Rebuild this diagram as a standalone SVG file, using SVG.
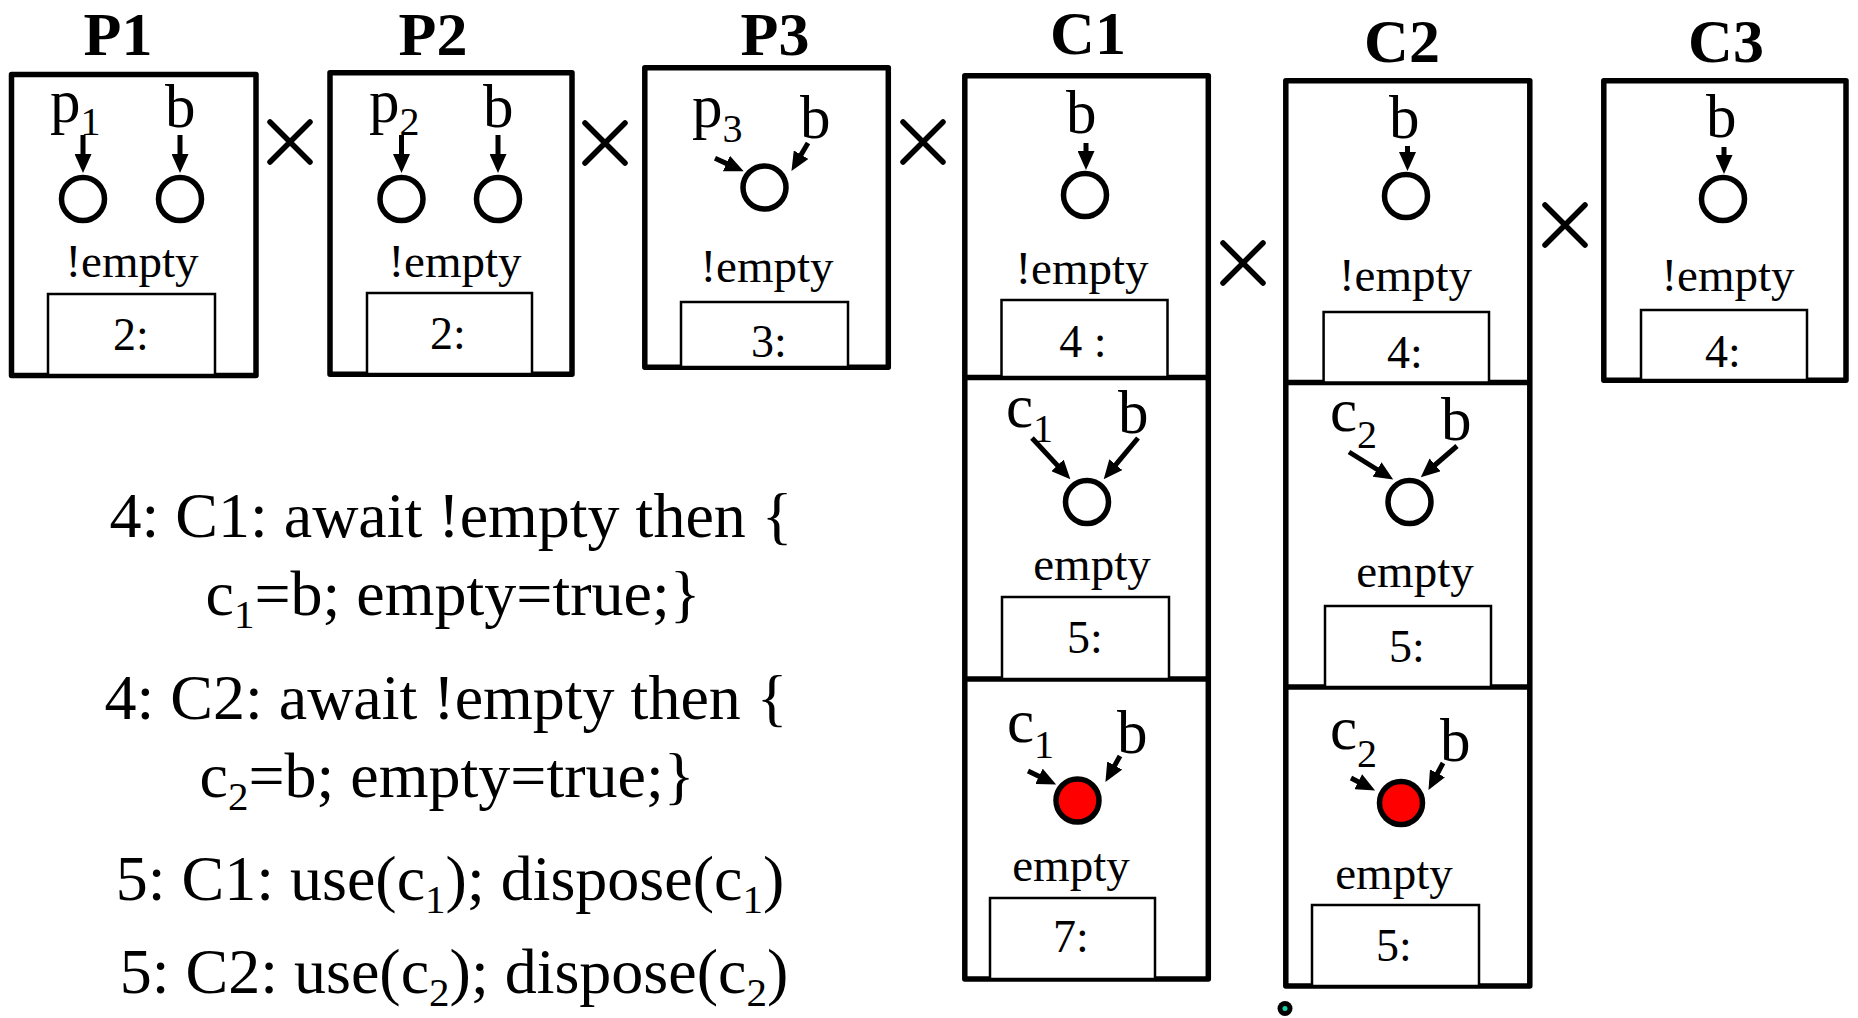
<svg xmlns="http://www.w3.org/2000/svg" width="1858" height="1018" viewBox="0 0 1858 1018">
  <style>
    .title { font-family: "Liberation Serif", "Times New Roman", serif; font-weight: bold; font-size: 62px; text-anchor: middle; fill: #000; }
    .frame { fill: none; stroke: #000; stroke-width: 5.5; stroke-linejoin: round; }
    .divider { stroke: #000; stroke-width: 5.5; }
    .pc { fill: #fff; stroke: #000; stroke-width: 2.5; }
    .lbl { font-family: "Liberation Serif", "Times New Roman", serif; font-size: 61px; fill: #000; }
    .sub { font-size: 40px; }
    .cond { font-family: "Liberation Serif", "Times New Roman", serif; font-size: 47px; text-anchor: middle; fill: #000; }
    .num { font-family: "Liberation Serif", "Times New Roman", serif; font-size: 46px; text-anchor: middle; fill: #000; }
    .var { fill: #fff; stroke: #000; stroke-width: 5.5; }
    .var.hit { fill: #ff0000; }
    .times { stroke: #000; stroke-width: 5.5; stroke-linecap: round; fill: none; }
    .arrow { stroke: #000; stroke-width: 5; fill: none; marker-end: url(#head); }
    .code { font-family: "Liberation Serif", "Times New Roman", serif; font-size: 64px; text-anchor: middle; fill: #000; }
    .csub { font-size: 41px; }
  </style>
  <defs>
    <marker id="head" viewBox="0 0 19 17" refX="1" refY="8.5" markerWidth="19" markerHeight="17" markerUnits="userSpaceOnUse" orient="auto">
      <path d="M0,0 L19,8.5 L0,17 Z" fill="#000"/>
    </marker>
  </defs>

  <!-- process titles -->
  <g id="titles">
    <text class="title" x="118" y="55">P1</text>
    <text class="title" x="433" y="55">P2</text>
    <text class="title" x="775" y="55">P3</text>
    <text class="title" x="1088" y="54">C1</text>
    <text class="title" x="1402" y="62">C2</text>
    <text class="title" x="1726" y="62">C3</text>
  </g>

  <!-- product operators -->
  <g id="products">
    <path class="times" d="M270,122 L310,162 M310,122 L270,162"/>
    <path class="times" d="M585,123 L625,163 M625,123 L585,163"/>
    <path class="times" d="M903,122 L943,162 M943,122 L903,162"/>
    <path class="times" d="M1223,243 L1263,283 M1263,243 L1223,283"/>
    <path class="times" d="M1545,205 L1585,245 M1585,205 L1545,245"/>
  </g>

  <!-- P1 -->
  <g id="P1">
    <rect class="frame" x="11.5" y="74.5" width="244.5" height="301"/>
    <text class="lbl" x="50" y="122">p<tspan class="sub" dy="13">1</tspan></text>
    <text class="lbl" x="165" y="127">b</text>
    <circle class="var" cx="83" cy="199" r="21.5"/>
    <circle class="var" cx="180" cy="199" r="21.5"/>
    <text class="cond" x="132" y="277">!empty</text>
    <rect class="pc" x="48" y="294" width="167" height="81"/>
    <text class="num" x="131" y="350">2:</text>
  </g>

  <!-- P2 -->
  <g id="P2">
    <rect class="frame" x="330" y="72.8" width="242" height="301.5"/>
    <text class="lbl" x="369" y="122">p<tspan class="sub" dy="13">2</tspan></text>
    <text class="lbl" x="483" y="127">b</text>
    <circle class="var" cx="401.5" cy="199" r="21.5"/>
    <circle class="var" cx="498" cy="199" r="21.5"/>
    <text class="cond" x="455" y="277">!empty</text>
    <rect class="pc" x="367" y="293" width="165" height="81"/>
    <text class="num" x="448" y="349">2:</text>
  </g>

  <!-- P3 -->
  <g id="P3">
    <rect class="frame" x="644.8" y="67.8" width="243.5" height="299.5"/>
    <text class="lbl" x="692" y="127">p<tspan class="sub" dy="15">3</tspan></text>
    <text class="lbl" x="800" y="138">b</text>
    <circle class="var" cx="764.5" cy="187.5" r="21.5"/>
    <text class="cond" x="767" y="282">!empty</text>
    <rect class="pc" x="681" y="302" width="167" height="65"/>
    <text class="num" x="769" y="357">3:</text>
  </g>

  <!-- C1 -->
  <g id="C1">
    <rect class="frame" x="964.8" y="75.8" width="243.5" height="903.2"/>
    <line class="divider" x1="964.8" y1="377.5" x2="1208.3" y2="377.5"/>
    <line class="divider" x1="964.8" y1="679" x2="1208.3" y2="679"/>
    <!-- state 4 -->
    <text class="lbl" x="1066" y="133">b</text>
    <circle class="var" cx="1085" cy="195" r="21.5"/>
    <text class="cond" x="1082" y="284">!empty</text>
    <rect class="pc" x="1001.5" y="300" width="166" height="77"/>
    <text class="num" x="1083" y="357">4 :</text>
    <!-- state 5 -->
    <text class="lbl" x="1006" y="427">c<tspan class="sub" dy="15">1</tspan></text>
    <text class="lbl" x="1118" y="433">b</text>
    <circle class="var" cx="1087" cy="502" r="21.5"/>
    <text class="cond" x="1092" y="580">empty</text>
    <rect class="pc" x="1002" y="597" width="167" height="82"/>
    <text class="num" x="1085" y="653">5:</text>
    <!-- state 7 -->
    <text class="lbl" x="1007" y="742">c<tspan class="sub" dy="16">1</tspan></text>
    <text class="lbl" x="1117" y="753">b</text>
    <circle class="var hit" cx="1077.5" cy="800.5" r="21.5"/>
    <text class="cond" x="1071" y="881">empty</text>
    <rect class="pc" x="990" y="898" width="165" height="81"/>
    <text class="num" x="1071" y="952">7:</text>
  </g>

  <!-- C2 -->
  <g id="C2">
    <rect class="frame" x="1285.8" y="80.8" width="244" height="905.2"/>
    <line class="divider" x1="1285.8" y1="382.5" x2="1529.8" y2="382.5"/>
    <line class="divider" x1="1285.8" y1="687" x2="1529.8" y2="687"/>
    <!-- state 4 -->
    <text class="lbl" x="1389" y="138">b</text>
    <circle class="var" cx="1406" cy="196" r="21.5"/>
    <text class="cond" x="1405.5" y="291">!empty</text>
    <rect class="pc" x="1323.6" y="312" width="165.4" height="70.5"/>
    <text class="num" x="1405" y="368">4:</text>
    <!-- state 5 -->
    <text class="lbl" x="1330" y="431">c<tspan class="sub" dy="17">2</tspan></text>
    <text class="lbl" x="1441" y="440">b</text>
    <circle class="var" cx="1409.5" cy="502" r="21.5"/>
    <text class="cond" x="1415" y="587">empty</text>
    <rect class="pc" x="1325" y="606" width="166" height="81"/>
    <text class="num" x="1407" y="662">5:</text>
    <!-- state 5, after use -->
    <text class="lbl" x="1330" y="749">c<tspan class="sub" dy="18">2</tspan></text>
    <text class="lbl" x="1440" y="761">b</text>
    <circle class="var hit" cx="1401" cy="803" r="21.5"/>
    <text class="cond" x="1394" y="889">empty</text>
    <rect class="pc" x="1312" y="905" width="167" height="81"/>
    <text class="num" x="1394" y="961">5:</text>
  </g>

  <!-- C3 -->
  <g id="C3">
    <rect class="frame" x="1603.8" y="80.8" width="242.2" height="299.5"/>
    <text class="lbl" x="1706" y="137">b</text>
    <circle class="var" cx="1723" cy="199" r="21.5"/>
    <text class="cond" x="1728" y="291">!empty</text>
    <rect class="pc" x="1641" y="310" width="166" height="70"/>
    <text class="num" x="1723" y="367">4:</text>
  </g>

  <!-- pointer arrows into the variable cells -->
  <g id="connectors">
    <line class="arrow" x1="83" y1="135" x2="83" y2="155"/>
    <line class="arrow" x1="180" y1="135" x2="180" y2="155"/>
    <line class="arrow" x1="401.5" y1="135" x2="401.5" y2="155"/>
    <line class="arrow" x1="498" y1="135" x2="498" y2="155"/>
    <line class="arrow" x1="715" y1="158.3" x2="727.3" y2="163.9"/>
    <line class="arrow" x1="808" y1="143" x2="800.6" y2="155.6"/>
    <line class="arrow" x1="1086" y1="143" x2="1086" y2="152"/>
    <line class="arrow" x1="1407.5" y1="146" x2="1407.5" y2="153"/>
    <line class="arrow" x1="1724" y1="147" x2="1724" y2="156"/>
    <line class="arrow" x1="1032" y1="438" x2="1058.1" y2="466.1"/>
    <line class="arrow" x1="1138" y1="438" x2="1115.2" y2="465.4"/>
    <line class="arrow" x1="1349" y1="452" x2="1377.9" y2="470"/>
    <line class="arrow" x1="1457" y1="446" x2="1434.4" y2="465.5"/>
    <line class="arrow" x1="1028" y1="771" x2="1039.9" y2="776.7"/>
    <line class="arrow" x1="1120" y1="756" x2="1114.2" y2="766.4"/>
    <line class="arrow" x1="1351" y1="778" x2="1359.1" y2="782.2"/>
    <line class="arrow" x1="1443" y1="763" x2="1437" y2="774.2"/>
  </g>

  <!-- statement listing -->
  <g id="listing">
    <text class="code" x="451" y="537">4: C1: await !empty then {</text>
    <text class="code" x="453" y="615">c<tspan class="csub" dy="13">1</tspan><tspan dy="-13">=b; empty=true;}</tspan></text>
    <text class="code" x="446" y="719">4: C2: await !empty then {</text>
    <text class="code" x="447" y="797">c<tspan class="csub" dy="13">2</tspan><tspan dy="-13">=b; empty=true;}</tspan></text>
    <text class="code" x="450" y="900">5: C1: use(c<tspan class="csub" dy="13">1</tspan><tspan dy="-13">); dispose(c</tspan><tspan class="csub" dy="13">1</tspan><tspan dy="-13">)</tspan></text>
    <text class="code" x="454" y="993">5: C2: use(c<tspan class="csub" dy="13">2</tspan><tspan dy="-13">); dispose(c</tspan><tspan class="csub" dy="13">2</tspan><tspan dy="-13">)</tspan></text>
  </g>

  <!-- anchor point -->
  <g id="anchor">
    <circle cx="1285" cy="1008.5" r="7.5" fill="#000"/>
    <circle cx="1285" cy="1008.5" r="2.5" fill="#14d4a8"/>
  </g>
</svg>
